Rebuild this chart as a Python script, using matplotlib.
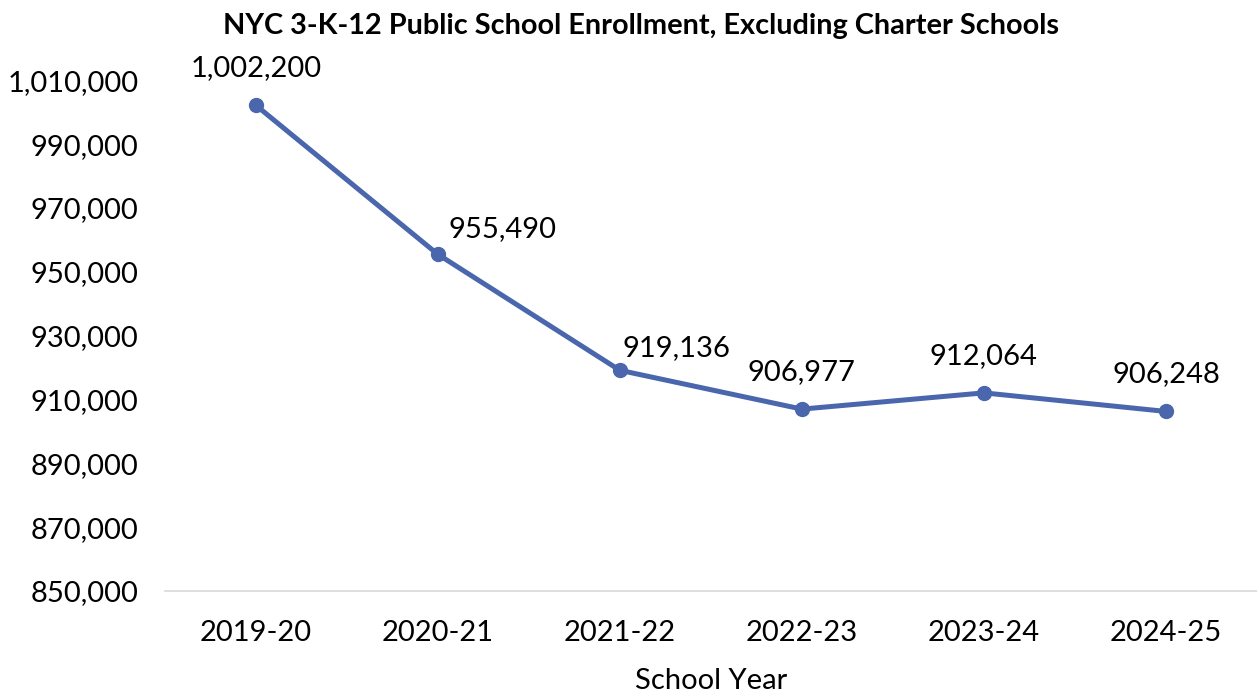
import matplotlib

matplotlib.use("Agg")
import matplotlib.pyplot as plt
from matplotlib.ticker import FuncFormatter

plt.rcParams["font.family"] = ["Lato", "DejaVu Sans"]

years = ["2019-20", "2020-21", "2021-22", "2022-23", "2023-24", "2024-25"]
enrollment = [1002200, 955490, 919136, 906977, 912064, 906248]
# label offsets in pixels (dx, dy)
label_offsets = [(0, 37), (65, 25), (57, 22), (0, 37), (0, 37), (0, 37)]

BLUE = "#4A66AC"
FS = 21

fig = plt.figure(figsize=(12.57, 6.92), dpi=100)
ax = fig.add_axes([0.131, 0.146, 0.869, 0.738])

x = range(len(years))
ax.plot(x, enrollment, color=BLUE, lw=3.6, marker="o", ms=10, zorder=3)

for i, v in enumerate(enrollment):
    dx, dy = label_offsets[i]
    ax.annotate(f"{v:,}", (i, v), xytext=(dx, dy), textcoords="offset pixels",
                ha="center", va="center", fontsize=FS, color="black")

ax.set_xlim(-0.5, len(years) - 0.5)
ax.set_ylim(850000, 1010000)
ax.set_yticks(range(850000, 1010001, 20000))
ax.yaxis.set_major_formatter(FuncFormatter(lambda v, p: f"{int(v):,}"))
ax.set_xticks(list(x))
ax.set_xticklabels(years)
ax.tick_params(axis="both", length=0, labelsize=FS, colors="black")
ax.tick_params(axis="x", pad=21)
ax.tick_params(axis="y", pad=19)

for s in ["top", "right", "left"]:
    ax.spines[s].set_visible(False)
ax.spines["bottom"].set_color("#D9D9D9")
ax.spines["bottom"].set_linewidth(1.2)

ax.set_xlabel("School Year", fontsize=FS, labelpad=16)
fig.text(0.51, 0.963, "NYC 3-K-12 Public School Enrollment, Excluding Charter Schools",
         ha="center", va="center", fontsize=20.8, fontweight="bold")

fig.savefig("out.png", dpi=100)
